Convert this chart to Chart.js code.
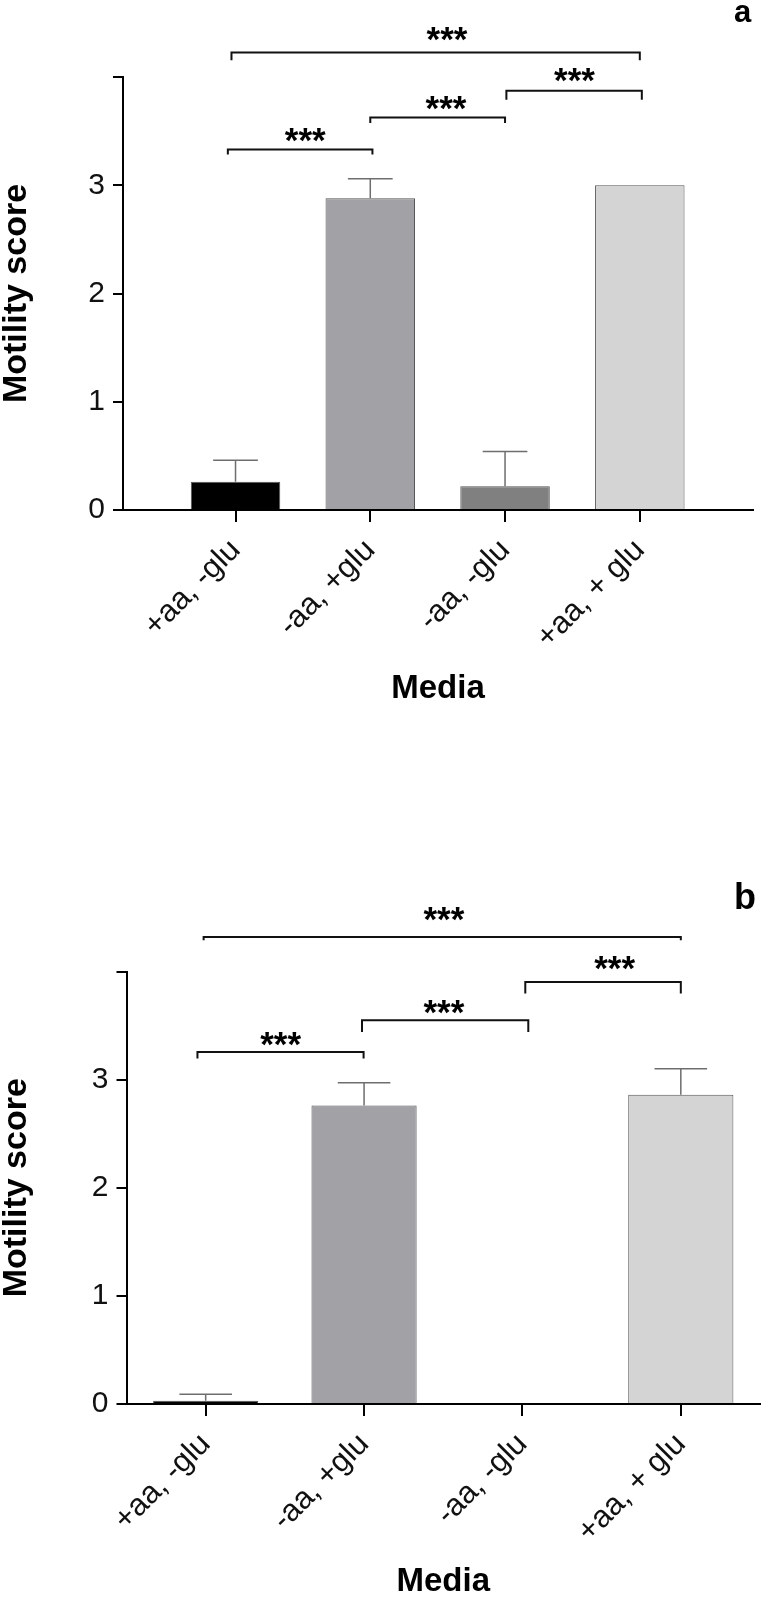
<!DOCTYPE html>
<html>
<head>
<meta charset="utf-8">
<script src="https://cdn.jsdelivr.net/npm/chart.js@4.4.1/dist/chart.umd.min.js"></script>
<style>
  body { margin: 0; background: #fff; }
  .box { position: absolute; left: 0; width: 762px; }
  .panel { position: absolute; left: 734px; font-family: 'Liberation Sans', Arial, sans-serif; font-weight: bold; line-height: 1; color: #000; }
</style>
</head>
<body>
<div class="box" style="top:0;height:760px"><canvas id="chartA"></canvas></div>
<div class="box" style="top:760px;height:839px"><canvas id="chartB"></canvas></div>
<div class="panel" style="top:-4px;font-size:31px">a</div>
<div class="panel" style="top:879px;font-size:36px">b</div>
<script>
// categories (media)
var media = ['+aa, -glu', '-aa, +glu', '-aa, -glu', '+aa, + glu'];
var barColors = ['#000000', '#a2a2a6', '#808080', '#d4d4d4'];

// panel a : mean motility score and upper SD
var scoreA = [0.26, 2.88, 0.22, 3.0];
var errA = [0.20, 0.18, 0.32, 0];
// panel b
var scoreB = [0.03, 2.76, 0, 2.86];
var errB = [0.06, 0.21, 0, 0.24];

// significance brackets: [from, to, level, tip level, label x, label level]
var sigA = [
  [-0.03, 3.0, 4.226, 4.155, 1.569, 4.40],
  [2.01, 3.015, 3.872, 3.789, 2.515, 4.017],
  [1.0, 2.0, 3.626, 3.576, 1.562, 3.761],
  [-0.057, 1.016, 3.331, 3.284, 0.517, 3.463]
];
var sigB = [
  [-0.013, 3.0, 4.319, 4.288, 1.504, 4.535],
  [2.018, 3.0, 3.903, 3.796, 2.582, 4.079],
  [0.987, 2.037, 3.549, 3.441, 1.504, 3.672],
  [-0.052, 0.997, 3.256, 3.195, 0.473, 3.38]
];
var sigText = '***';

var FONT = "'Liberation Sans', Arial, sans-serif";

// error bars + brackets drawn through the chart scales
var annot = {
  id: 'annot',
  afterDraw: function(chart, args, opts) {
    var ctx = chart.ctx, x = chart.scales.x, y = chart.scales.y;
    var meta = chart.getDatasetMeta(0);
    var vals = chart.data.datasets[0].data;
    ctx.save();
    ctx.strokeStyle = '#6e6e6e';
    ctx.lineWidth = 1.5;
    opts.err.forEach(function(e, i) {
      if (!e) return;
      var xc = x.getPixelForValue(i);
      var y0 = y.getPixelForValue(vals[i].y);
      var y1 = y.getPixelForValue(vals[i].y + e);
      var half = meta.data[i].width / 4;
      ctx.beginPath();
      ctx.moveTo(xc, y0); ctx.lineTo(xc, y1);
      ctx.moveTo(xc - half, y1); ctx.lineTo(xc + half, y1);
      ctx.stroke();
    });
    ctx.strokeStyle = '#111';
    ctx.lineWidth = 2;
    ctx.fillStyle = '#000';
    ctx.font = 'bold 35px ' + FONT;
    ctx.textAlign = 'center';
    ctx.textBaseline = 'alphabetic';
    var m = ctx.measureText(sigText);
    opts.sig.forEach(function(s) {
      var xa = x.getPixelForValue(s[0]), xb = x.getPixelForValue(s[1]);
      var yl = y.getPixelForValue(s[2]), yt = y.getPixelForValue(s[3]);
      ctx.beginPath();
      ctx.moveTo(xa, yt); ctx.lineTo(xa, yl); ctx.lineTo(xb, yl); ctx.lineTo(xb, yt);
      ctx.stroke();
      var cy = y.getPixelForValue(s[5]);
      ctx.fillText(sigText, x.getPixelForValue(s[4]), cy + (m.actualBoundingBoxAscent - m.actualBoundingBoxDescent) / 2);
    });
    ctx.restore();
  }
};

function makeChart(id, scores, errs, sig, xRange, yWidth, xHeight, pad) {
  return new Chart(document.getElementById(id), {
    type: 'bar',
    data: {
      datasets: [{
        data: scores.map(function(v, i) { return {x: i, y: v}; }),
        backgroundColor: barColors,
        borderColor: '#555',
        borderWidth: 1,
        barPercentage: 0.83,
        categoryPercentage: 0.8
      }]
    },
    options: {
      responsive: true,
      maintainAspectRatio: false,
      animation: false,
      layout: { padding: pad },
      plugins: {
        legend: { display: false },
        tooltip: { enabled: false },
        annot: { err: errs, sig: sig }
      },
      scales: {
        x: {
          type: 'linear',
          min: xRange[0],
          max: xRange[1],
          offset: false,
          afterBuildTicks: function(s) { s.ticks = media.map(function(c, i) { return {value: i}; }); },
          afterFit: function(s) { s.height = xHeight; },
          ticks: {
            autoSkip: false,
            minRotation: 45,
            maxRotation: 45,
            padding: 10,
            color: '#111',
            font: { family: FONT, size: 31 },
            callback: function(v) { return media[v]; }
          },
          grid: { display: true, offset: false, drawOnChartArea: false, drawTicks: true, tickLength: 12, lineWidth: 2, color: '#000' },
          border: { display: true, color: '#000', width: 2 },
          title: { display: true, text: 'Media', color: '#000', padding: 0, font: { family: FONT, size: 33, weight: 'bold', lineHeight: 1 } }
        },
        y: {
          min: 0,
          max: 4,
          afterFit: function(s) { s.width = yWidth; },
          ticks: {
            stepSize: 1,
            padding: 8,
            color: '#111',
            font: { family: FONT, size: 30 },
            callback: function(v) { return v === 4 ? '' : v; }
          },
          grid: { display: true, drawOnChartArea: false, drawTicks: true, tickLength: 10, lineWidth: 2, color: '#000' },
          border: { display: true, color: '#000', width: 2 },
          title: { display: true, text: 'Motility score', color: '#000', padding: 0, font: { family: FONT, size: 34, weight: 'bold', lineHeight: 1 } }
        }
      }
    },
    plugins: [annot]
  });
}

makeChart('chartA', scoreA, errA, sigA, [-0.835, 3.84], 123, 195, { top: 77, left: 0, right: 9, bottom: 55 });
makeChart('chartB', scoreB, errB, sigB, [-0.5, 3.5], 126.5, 194, { top: 211.5, left: 0, right: 2, bottom: 1 });
</script>
</body>
</html>
